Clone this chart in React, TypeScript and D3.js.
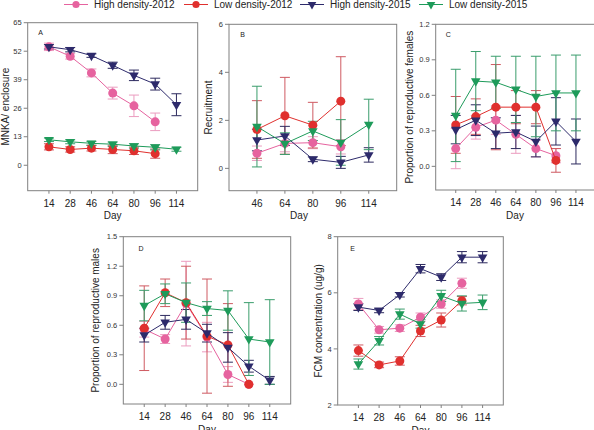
import React from "react";
import * as d3 from "d3";

// ---------- categories & labels ----------
const days = ["14", "28", "46", "64", "80", "96", "114"];
const daysRecruit = ["46", "64", "80", "96", "114"];
const seriesNames = ["High density-2012", "Low density-2012", "High density-2015", "Low density-2015"];

// ---------- Panel A: MNKA / enclosure ----------
const mnkaHigh2012 = [54.0, 49.7, 42.1, 32.9, 27.1, 19.8, null];
const mnkaHigh2012Se = [1.7, 1.3, 1.8, 2.7, 4.9, 4.0, null];
const mnkaLow2012 = [8.4, 7.2, 7.8, 7.2, 6.6, 5.3, null];
const mnkaLow2012Se = [1.4, 1.2, 1.3, 1.9, 1.7, 2.1, null];
const mnkaHigh2015 = [54.0, 52.7, 50.0, 45.6, 41.0, 37.0, 27.6];
const mnkaHigh2015Se = [1.0, 1.0, 0.8, 1.4, 2.4, 2.7, 5.0];
const mnkaLow2015 = [11.6, 10.7, 10.0, 9.6, 8.8, 8.2, 7.3];
const mnkaLow2015Se = [0.8, 0.9, 0.9, 1.0, 1.0, 1.2, 0.9];
const mnkaTicks = [0, 13, 26, 39, 52, 65];

// ---------- Panel B: Recruitment ----------
const recHigh2012 = [0.63, 1.04, 1.07, 0.9, null];
const recHigh2012Se = [0.3, 0.35, 0.25, 0.3, null];
const recLow2012 = [1.62, 2.19, 1.8, 2.8, null];
const recLow2012Se = [1.2, 1.6, 0.95, 1.85, null];
const recHigh2015 = [1.18, 1.35, 0.38, 0.25, 0.56];
const recHigh2015Se = [0.45, 0.4, 0.1, 0.25, 0.3];
const recLow2015 = [1.74, 1.03, 1.56, 1.08, 1.83];
const recLow2015Se = [1.68, 0.45, 0.4, 0.95, 1.05];
const recTicks = [0, 2, 4, 6];

// ---------- Panel C: Proportion of reproductive females ----------
const femHigh2012 = [0.15, 0.33, 0.39, 0.27, 0.15, 0.09, null];
const femHigh2012Se = [0.17, 0.1, 0.12, 0.16, 0.07, 0.06, null];
const femLow2012 = [0.35, 0.42, 0.5, 0.5, 0.5, 0.05, null];
const femLow2012Se = [0.24, 0.15, 0.36, 0.14, 0.14, 0.1, null];
const femHigh2015 = [0.31, 0.39, 0.28, 0.29, 0.21, 0.38, 0.21];
const femHigh2015Se = [0.12, 0.13, 0.13, 0.14, 0.13, 0.2, 0.19];
const femLow2015 = [0.43, 0.72, 0.71, 0.65, 0.59, 0.62, 0.62];
const femLow2015Se = [0.39, 0.25, 0.22, 0.28, 0.34, 0.32, 0.32];
const femTicks = [0, 0.3, 0.6, 0.9, 1.2];

// ---------- Panel D: Proportion of reproductive males ----------
const maleHigh2012 = [0.56, 0.46, 0.82, 0.48, 0.1, 0.0, null];
const maleHigh2012Se = [0.08, 0.045, 0.43, 0.15, 0.08, 0, null];
const maleLow2012 = [0.57, 0.93, 0.83, 0.49, 0.4, 0.0, null];
const maleLow2012Se = [0.43, 0.14, 0.37, 0.58, 0.42, 0, null];
const maleHigh2015 = [0.5, 0.63, 0.66, 0.52, 0.375, 0.184, 0.04];
const maleHigh2015Se = [0.07, 0.07, 0.1, 0.09, 0.15, 0.06, 0.04];
const maleLow2015 = [0.8, 0.92, 0.83, 0.77, 0.75, 0.46, 0.43];
const maleLow2015Se = [0.155, 0.1, 0.2, 0.07, 0.2, 0.37, 0.43];
const maleTicks = [0, 0.3, 0.6, 0.9, 1.2, 1.5];

// ---------- Panel E: FCM concentration ----------
const fcmHigh2012 = [5.6, 4.68, 4.74, 5.13, 5.6, 6.34, null];
const fcmHigh2012Se = [0.2, 0.12, 0.12, 0.15, 0.15, 0.18, null];
const fcmLow2012 = [3.94, 3.43, 3.57, 4.64, 5.03, 5.72, null];
const fcmLow2012Se = [0.2, 0.1, 0.15, 0.2, 0.25, 0.15, null];
const fcmHigh2015 = [5.49, 5.37, 5.93, 6.86, 6.56, 7.27, 7.27];
const fcmHigh2015Se = [0.12, 0.08, 0.08, 0.15, 0.12, 0.2, 0.2];
const fcmLow2015 = [3.46, 4.29, 5.24, 4.89, 5.89, 5.62, 5.66];
const fcmLow2015Se = [0.18, 0.15, 0.18, 0.15, 0.2, 0.27, 0.26];
const fcmTicks = [2, 4, 6, 8];

// ---------- styles ----------
const FONT = "'Liberation Sans', Arial, sans-serif";
const colors = ["#e6639f", "#e0302e", "#2d2a6b", "#1e9b5a"];
const errColors = ["#eb9cbf", "#cf5a62", "#2d2a5e", "#3a9d6c"];
const shapes = ["circle", "circle", "tri", "tri"];
const axisColor = "#808080";

type Series = { mean: (number | null)[]; se: (number | null)[] };

type PanelProps = {
  left: number; top: number; right: number; bottom: number;
  cats: string[]; yDomain: [number, number]; yTicks: number[];
  fmt: (v: number) => string; series: Series[];
  letter: string; letterDx: number; letterDy: number;
  yTitle: string; yTitleX: number; dayX?: number;
};

function Marker({ shape, x, y, color, r = 4.5 }: { shape: string; x: number; y: number; color: string; r?: number }) {
  if (shape === "circle") return <circle cx={x} cy={y} r={r} fill={color} />;
  const size = (r / 4.5) * 40;
  const p = d3.symbol().type(d3.symbolTriangle).size(size)() as string;
  return <path d={p} transform={`translate(${x},${y}) rotate(180)`} fill={color} />;
}

function Panel(p: PanelProps) {
  const x = d3.scalePoint<string>().domain(p.cats).range([p.left, p.right]).padding(1);
  const y = d3.scaleLinear().domain(p.yDomain).range([p.bottom, p.top]);
  const cap = 5;
  return (
    <g>
      <rect x={p.left} y={p.top} width={p.right - p.left} height={p.bottom - p.top} fill="none" stroke={axisColor} strokeWidth={1} />
      {p.yTicks.map((t) => (
        <g key={"y" + t}>
          <line x1={p.left - 4} x2={p.left} y1={y(t)} y2={y(t)} stroke={axisColor} />
          <text x={p.left - 6} y={y(t)} dy="0.35em" textAnchor="end" fontSize={7.5} fill="#333">{p.fmt(t)}</text>
        </g>
      ))}
      {p.cats.map((c) => (
        <g key={"x" + c}>
          <line x1={x(c)} x2={x(c)} y1={p.bottom} y2={p.bottom + 3} stroke={axisColor} />
          <text x={x(c)} y={p.bottom + 12.6} dy="0.35em" textAnchor="middle" fontSize={10} fill="#222">{c}</text>
        </g>
      ))}
      <text x={p.dayX ?? (p.left + p.right) / 2} y={p.bottom + 25} dy="0.35em" textAnchor="middle" fontSize={10} fill="#222">Day</text>
      <text transform={`translate(${p.yTitleX},${(p.top + p.bottom) / 2}) rotate(-90)`} dy="0.35em" textAnchor="middle" fontSize={10} fill="#222">{p.yTitle}</text>
      <text x={p.left + p.letterDx} y={p.top + p.letterDy} dy="0.35em" textAnchor="middle" fontSize={7} fill="#222">{p.letter}</text>
      {/* error bars */}
      {p.series.map((s, si) => (
        <g key={"e" + si} stroke={errColors[si]} strokeWidth={1}>
          {s.mean.map((m, i) => {
            const e = s.se[i];
            if (m == null || e == null || e === 0) return null;
            const cx = x(p.cats[i]) as number;
            return (
              <g key={i}>
                <line x1={cx} x2={cx} y1={y(m - e)} y2={y(m + e)} />
                <line x1={cx - cap} x2={cx + cap} y1={y(m - e)} y2={y(m - e)} />
                <line x1={cx - cap} x2={cx + cap} y1={y(m + e)} y2={y(m + e)} />
              </g>
            );
          })}
        </g>
      ))}
      {/* lines and markers */}
      {p.series.map((s, si) => {
        const pts = s.mean.map((m, i) => [x(p.cats[i]) as number, m] as [number, number | null]).filter((d) => d[1] != null) as [number, number][];
        const line = d3.line<[number, number]>().x((d) => d[0]).y((d) => y(d[1]));
        return (
          <g key={"s" + si}>
            <path d={line(pts) as string} fill="none" stroke={colors[si]} strokeWidth={1} />
            {pts.map((d, i) => (
              <Marker key={i} shape={shapes[si]} x={d[0]} y={y(d[1])} color={colors[si]} />
            ))}
          </g>
        );
      })}
    </g>
  );
}

const legendPos = [64, 184, 300, 419];

export default function App() {
  const f0 = (v: number) => d3.format("d")(v);
  const f1 = (v: number) => d3.format(".1f")(v);
  return (
    <svg width={594} height={430} style={{ position: "absolute", left: 0, top: 0, fontFamily: FONT, background: "#fff" }}>
      {/* legend */}
      {seriesNames.map((n, i) => (
        <g key={n}>
          <line x1={legendPos[i]} x2={legendPos[i] + 24} y1={4.5} y2={4.5} stroke={colors[i]} strokeWidth={1} />
          <Marker shape={shapes[i]} x={legendPos[i] + 12} y={4.5} color={colors[i]} r={3.6} />
          <text x={legendPos[i] + 30} y={4.5} dy="0.35em" fontSize={10} fill="#222">{n}</text>
        </g>
      ))}
      <Panel left={27.7} top={22.7} right={197.7} bottom={190.7} cats={days} yDomain={[-11.6, 65]} yTicks={mnkaTicks} fmt={f0}
        series={[{ mean: mnkaHigh2012, se: mnkaHigh2012Se }, { mean: mnkaLow2012, se: mnkaLow2012Se }, { mean: mnkaHigh2015, se: mnkaHigh2015Se }, { mean: mnkaLow2015, se: mnkaLow2015Se }]}
        letter="A" letterDx={13} letterDy={10} yTitle="MNKA/ enclosure" yTitleX={5} />
      <Panel left={229} top={24.3} right={396.7} bottom={190.7} cats={daysRecruit} yDomain={[-0.93, 6]} yTicks={recTicks} fmt={f0}
        series={[{ mean: recHigh2012, se: recHigh2012Se }, { mean: recLow2012, se: recLow2012Se }, { mean: recHigh2015, se: recHigh2015Se }, { mean: recLow2015, se: recLow2015Se }]}
        letter="B" letterDx={13.7} letterDy={10.7} yTitle="Recruitment" yTitleX={208} dayX={299} />
      <Panel left={435.7} top={24.3} right={596} bottom={190} cats={days} yDomain={[-0.2, 1.2]} yTicks={femTicks} fmt={f1}
        series={[{ mean: femHigh2012, se: femHigh2012Se }, { mean: femLow2012, se: femLow2012Se }, { mean: femHigh2015, se: femHigh2015Se }, { mean: femLow2015, se: femLow2015Se }]}
        letter="C" letterDx={12.6} letterDy={10.7} yTitle="Proportion of reproductive females" yTitleX={409} dayX={515} />
      <Panel left={123.3} top={236.7} right={290.7} bottom={404} cats={days} yDomain={[-0.2, 1.5]} yTicks={maleTicks} fmt={f1}
        series={[{ mean: maleHigh2012, se: maleHigh2012Se }, { mean: maleLow2012, se: maleLow2012Se }, { mean: maleHigh2015, se: maleHigh2015Se }, { mean: maleLow2015, se: maleLow2015Se }]}
        letter="D" letterDx={17.7} letterDy={11.6} yTitle="Proportion of reproductive males" yTitleX={95} />
      <Panel left={337.7} top={236.7} right={503.3} bottom={405} cats={days} yDomain={[2, 8]} yTicks={fcmTicks} fmt={f0}
        series={[{ mean: fcmHigh2012, se: fcmHigh2012Se }, { mean: fcmLow2012, se: fcmLow2012Se }, { mean: fcmHigh2015, se: fcmHigh2015Se }, { mean: fcmLow2015, se: fcmLow2015Se }]}
        letter="E" letterDx={15} letterDy={12.3} yTitle="FCM concentration (ug/g)" yTitleX={318} />
    </svg>
  );
}
